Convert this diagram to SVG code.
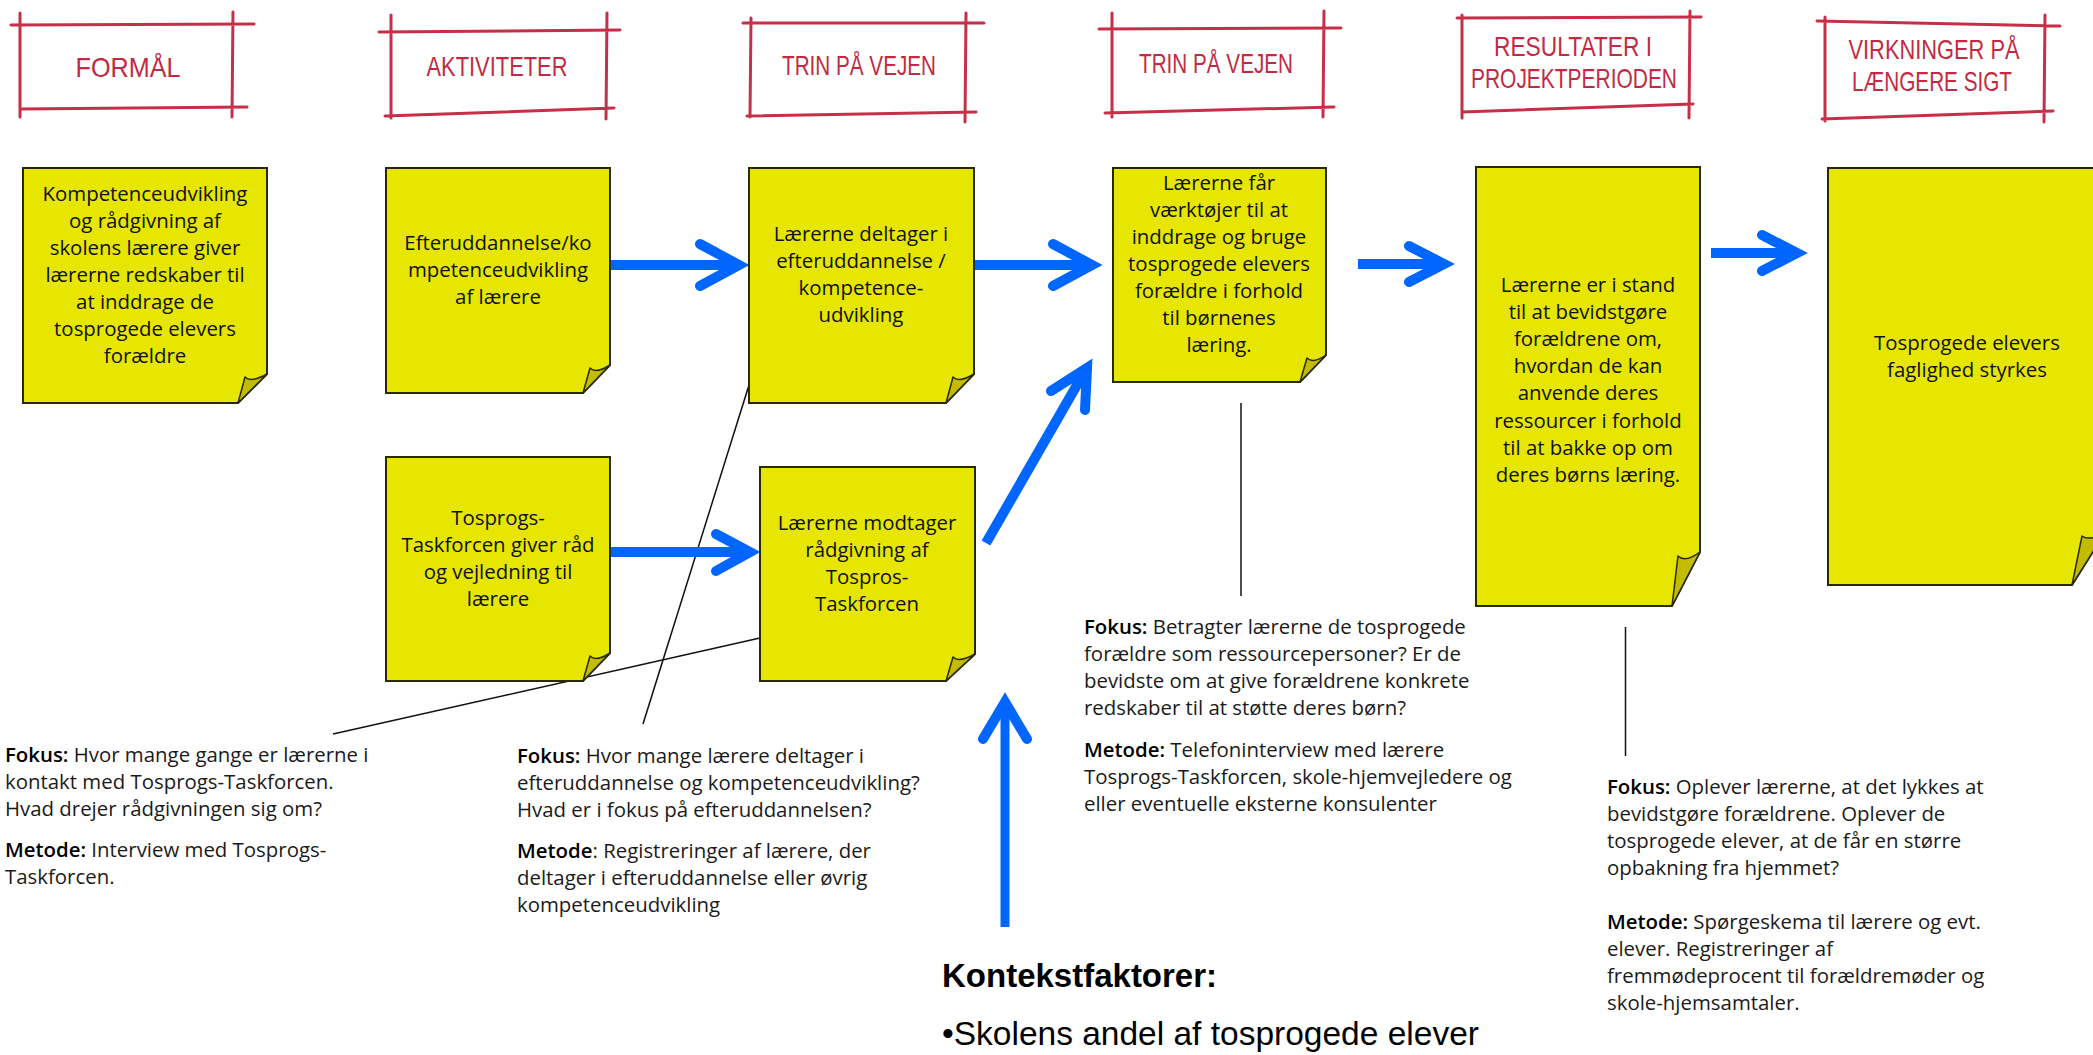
<svg xmlns="http://www.w3.org/2000/svg" width="2093" height="1055" viewBox="0 0 2093 1055">
<defs>
<style>
.note{fill:#e6e600;stroke:#2a2a00;stroke-width:2}
.flap{fill:#c2bb00;stroke:#2a2a00;stroke-width:1.5;stroke-linejoin:round}
.nt{font-family:"Open Sans","Liberation Sans",sans-serif;font-size:20.4px;fill:#111;text-anchor:middle}
.bt{font-family:"Open Sans","Liberation Sans",sans-serif;font-size:20.4px;fill:#1a1a1a}
.b{font-weight:600;fill:#000}
.fr{stroke:#c62f48;stroke-width:3;stroke-linecap:round;fill:none}
.ht{font-family:"Liberation Sans",sans-serif;font-size:28px;fill:#c22a44;text-anchor:middle}
.shaft{stroke:#0066ff;stroke-width:10;fill:none}
.head{stroke:#0066ff;stroke-width:10;fill:none;stroke-linecap:round;stroke-linejoin:miter}
.thin{stroke:#111;stroke-width:1.5;fill:none}
.kt{font-family:"Liberation Sans",Arial,sans-serif;fill:#000}
</style>
</defs>
<rect width="2093" height="1055" fill="#fff"/>

<g id="headers">
<g id="h-formaal">
<path class="fr" d="M11,25 L254,24 M20,109 L247,107 M20,13 L20,117 M233,12 L232,117"/>
<text class="ht" x="128" y="77" textLength="105" lengthAdjust="spacingAndGlyphs">FORMÅL</text>
</g>
<g id="h-aktiviteter">
<path class="fr" d="M379,32 L620,30 M385,116 L614,108 M391,15 L391,118 M607,13 L606,119"/>
<text class="ht" x="497" y="76" textLength="141" lengthAdjust="spacingAndGlyphs">AKTIVITETER</text>
</g>
<g id="h-trin1">
<path class="fr" d="M743,23 L984,23 M747,116 L976,112 M751,18 L750,117 M966,13 L965,122"/>
<text class="ht" x="859" y="75" textLength="154" lengthAdjust="spacingAndGlyphs">TRIN PÅ VEJEN</text>
</g>
<g id="h-trin2">
<path class="fr" d="M1099,29 L1341,28 M1105,113 L1334,107 M1112,13 L1112,117 M1324,11 L1323,117"/>
<text class="ht" x="1216" y="73" textLength="154" lengthAdjust="spacingAndGlyphs">TRIN PÅ VEJEN</text>
</g>
<g id="h-resultater">
<path class="fr" d="M1457,18 L1701,17 M1462,112 L1693,104 M1462,15 L1462,118 M1690,11 L1689,118"/>
<text class="ht" x="1573" y="56" textLength="158" lengthAdjust="spacingAndGlyphs">RESULTATER I</text>
<text class="ht" x="1574" y="88" textLength="206" lengthAdjust="spacingAndGlyphs">PROJEKTPERIODEN</text>
</g>
<g id="h-virkninger">
<path class="fr" d="M1817,21 L2060,26 M1822,119 L2053,111 M1825,17 L1825,121 M2045,15 L2044,122"/>
<text class="ht" x="1934" y="59" textLength="171" lengthAdjust="spacingAndGlyphs">VIRKNINGER PÅ</text>
<text class="ht" x="1932" y="91" textLength="160" lengthAdjust="spacingAndGlyphs">LÆNGERE SIGT</text>
</g>
</g>

<g id="connectors">
<path class="thin" d="M333,734 L760,638"/>
<path class="thin" d="M749,385 L643,724"/>
<path class="thin" d="M1241,403 L1241,596"/>
<path class="thin" d="M1625.5,627 L1625.5,756"/>
<line class="shaft" x1="610" y1="265" x2="736" y2="265"/>
<polyline class="head" points="700,244 739,265 700,286"/>
<line class="shaft" x1="964" y1="265" x2="1089" y2="265"/>
<polyline class="head" points="1053,244 1092,265 1053,286"/>
<line class="shaft" x1="1358" y1="264" x2="1441" y2="264"/>
<polyline class="head" points="1409,246 1444,264 1409,282"/>
<line class="shaft" x1="1711" y1="253" x2="1794" y2="253"/>
<polyline class="head" points="1762,235 1797,253 1762,271"/>
<line class="shaft" x1="610" y1="552" x2="747" y2="552"/>
<polyline class="head" points="716,534 750,552 716,571"/>
<line class="shaft" x1="986" y1="543" x2="1085" y2="371"/>
<polyline class="head" points="1051,391 1087,368 1085,410"/>
<line class="shaft" x1="1005" y1="927" x2="1005" y2="705" style="stroke-width:9"/>
<polyline class="head" points="983,739 1005,702 1027,739"/>
</g>

<g id="note-a">
<path class="note" d="M23,168 H267 V374 L238,403 H23 Z"/>
<path class="flap" d="M238,403 L245,377 Q251,383 267,374 Z"/>
<text class="nt"><tspan x="145" y="201">Kompetenceudvikling</tspan><tspan x="145" y="228">og rådgivning af</tspan><tspan x="145" y="255">skolens lærere giver</tspan><tspan x="145" y="282">lærerne redskaber til</tspan><tspan x="145" y="309">at inddrage de</tspan><tspan x="145" y="336">tosprogede elevers</tspan><tspan x="145" y="363">forældre</tspan></text>
</g>
<g id="note-b">
<path class="note" d="M386,168 H610 V365 L583,393 H386 Z"/>
<path class="flap" d="M583,393 L590,368 Q596,374 610,365 Z"/>
<text class="nt"><tspan x="498" y="250">Efteruddannelse/ko</tspan><tspan x="498" y="277">mpetenceudvikling</tspan><tspan x="498" y="304">af lærere</tspan></text>
</g>
<g id="note-c">
<path class="note" d="M749,168 H974 V374 L946,403 H749 Z"/>
<path class="flap" d="M946,403 L953,377 Q959,383 974,374 Z"/>
<text class="nt"><tspan x="861" y="241">Lærerne deltager i</tspan><tspan x="861" y="268">efteruddannelse /</tspan><tspan x="861" y="295">kompetence-</tspan><tspan x="861" y="322">udvikling</tspan></text>
</g>
<g id="note-d">
<path class="note" d="M1113,168 H1326 V355 L1300,382 H1113 Z"/>
<path class="flap" d="M1300,382 L1307,358 Q1313,364 1326,355 Z"/>
<text class="nt"><tspan x="1219" y="190">Lærerne får</tspan><tspan x="1219" y="217">værktøjer til at</tspan><tspan x="1219" y="244">inddrage og bruge</tspan><tspan x="1219" y="271">tosprogede elevers</tspan><tspan x="1219" y="298">forældre i forhold</tspan><tspan x="1219" y="325">til børnenes</tspan><tspan x="1219" y="352">læring.</tspan></text>
</g>
<g id="note-e">
<path class="note" d="M386,457 H610 V653 L583,681 H386 Z"/>
<path class="flap" d="M583,681 L590,656 Q596,662 610,653 Z"/>
<text class="nt"><tspan x="498" y="525">Tosprogs-</tspan><tspan x="498" y="552">Taskforcen giver råd</tspan><tspan x="498" y="579">og vejledning til</tspan><tspan x="498" y="606">lærere</tspan></text>
</g>
<g id="note-f">
<path class="note" d="M760,467 H975 V654 L946,681 H760 Z"/>
<path class="flap" d="M946,681 L953,657 Q959,663 975,654 Z"/>
<text class="nt"><tspan x="867" y="530">Lærerne modtager</tspan><tspan x="867" y="557">rådgivning af</tspan><tspan x="867" y="584">Tospros-</tspan><tspan x="867" y="611">Taskforcen</tspan></text>
</g>
<g id="note-g">
<path class="note" d="M1476,167 H1700 V552 L1672,606 H1476 Z"/>
<path class="flap" d="M1672,606 L1678,556 Q1685,563 1700,552 Z"/>
<text class="nt"><tspan x="1588" y="292">Lærerne er i stand</tspan><tspan x="1588" y="319">til at bevidstgøre</tspan><tspan x="1588" y="346">forældrene om,</tspan><tspan x="1588" y="373">hvordan de kan</tspan><tspan x="1588" y="400">anvende deres</tspan><tspan x="1588" y="428">ressourcer i forhold</tspan><tspan x="1588" y="455">til at bakke op om</tspan><tspan x="1588" y="482">deres børns læring.</tspan></text>
</g>
<g id="note-h">
<path class="note" d="M1828,168 H2106 V531 L2072,585 H1828 Z"/>
<path class="flap" d="M2072,585 L2082,536 Q2090,542 2106,531 Z"/>
<text class="nt"><tspan x="1967" y="350">Tosprogede elevers</tspan><tspan x="1967" y="377">faglighed styrkes</tspan></text>
</g>

<g id="text-1">
<text class="bt"><tspan x="5" y="762"><tspan class="b">Fokus:</tspan> Hvor mange gange er lærerne i</tspan><tspan x="5" y="789">kontakt med Tosprogs-Taskforcen.</tspan><tspan x="5" y="816">Hvad drejer rådgivningen sig om?</tspan><tspan x="5" y="857"><tspan class="b">Metode:</tspan> Interview med Tosprogs-</tspan><tspan x="5" y="884">Taskforcen.</tspan></text>
</g>
<g id="text-2">
<text class="bt"><tspan x="517" y="763"><tspan class="b">Fokus:</tspan> Hvor mange lærere deltager i</tspan><tspan x="517" y="790">efteruddannelse og kompetenceudvikling?</tspan><tspan x="517" y="817">Hvad er i fokus på efteruddannelsen?</tspan><tspan x="517" y="858"><tspan class="b">Metode</tspan>: Registreringer af lærere, der</tspan><tspan x="517" y="885">deltager i efteruddannelse eller øvrig</tspan><tspan x="517" y="912">kompetenceudvikling</tspan></text>
</g>
<g id="text-3">
<text class="bt"><tspan x="1084" y="634"><tspan class="b">Fokus:</tspan> Betragter lærerne de tosprogede</tspan><tspan x="1084" y="661">forældre som ressourcepersoner? Er de</tspan><tspan x="1084" y="688">bevidste om at give forældrene konkrete</tspan><tspan x="1084" y="715">redskaber til at støtte deres børn?</tspan><tspan x="1084" y="757"><tspan class="b">Metode:</tspan> Telefoninterview med lærere</tspan><tspan x="1084" y="784">Tosprogs-Taskforcen, skole-hjemvejledere og</tspan><tspan x="1084" y="811">eller eventuelle eksterne konsulenter</tspan></text>
</g>
<g id="text-4">
<text class="bt"><tspan x="1607" y="794"><tspan class="b">Fokus:</tspan> Oplever lærerne, at det lykkes at</tspan><tspan x="1607" y="821">bevidstgøre forældrene. Oplever de</tspan><tspan x="1607" y="848">tosprogede elever, at de får en større</tspan><tspan x="1607" y="875">opbakning fra hjemmet?</tspan><tspan x="1607" y="929"><tspan class="b">Metode:</tspan> Spørgeskema til lærere og evt.</tspan><tspan x="1607" y="956">elever. Registreringer af</tspan><tspan x="1607" y="983">fremmødeprocent til forældremøder og</tspan><tspan x="1607" y="1010">skole-hjemsamtaler.</tspan></text>
</g>
<g id="kontekst">
<text class="kt" x="942" y="987" style="font-size:33px;font-weight:bold">Kontekstfaktorer:</text>
<text class="kt" x="942" y="1045" style="font-size:33.5px">•Skolens andel af tosprogede elever</text>
</g>
</svg>
